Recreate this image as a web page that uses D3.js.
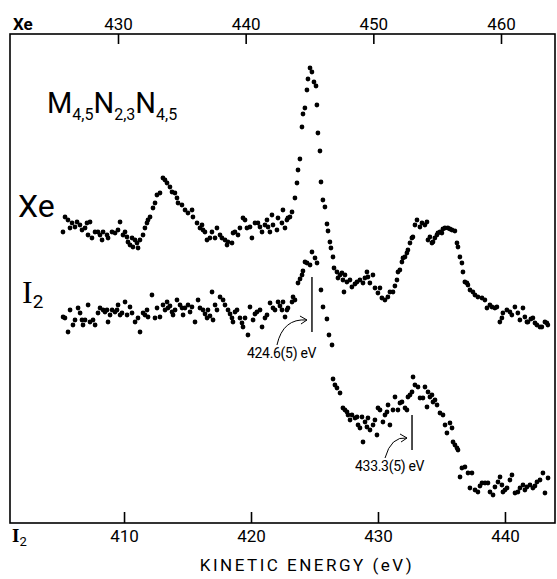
<!DOCTYPE html>
<html><head><meta charset="utf-8">
<script src="https://cdn.jsdelivr.net/npm/d3@7"></script>
<style>
body{margin:0;background:#fff}
svg{display:block}
text{font-family:Roboto,"DejaVu Sans",sans-serif;fill:#000}
</style>
</head><body><svg id="c" width="557" height="579"></svg>
<script>
// ---- data ----
const xeTicks=[430,440,450,460];
const i2Ticks=[410,420,430,440];
const xeEnergy=[425.69,425.85,426.08,426.24,426.40,426.63,426.79,427.02,427.18,427.42,427.57,427.65,427.81,427.96,428.20,428.43,428.59,428.75,428.83,429.14,429.22,429.53,429.77,430.00,430.16,430.39,430.55,430.70,430.78,430.94,431.10,431.17,431.33,431.49,431.57,431.72,431.96,432.11,432.27,432.35,432.51,432.74,432.90,433.05,433.29,433.52,433.68,433.84,434.07,434.23,434.46,434.62,434.70,435.01,435.25,435.48,435.80,435.87,436.19,436.42,436.58,436.66,436.81,436.97,437.20,437.36,437.60,437.75,437.99,438.14,438.38,438.54,438.61,438.93,439.01,439.16,439.40,439.55,439.79,439.95,440.10,440.34,440.49,440.73,440.96,441.12,441.28,441.51,441.67,441.75,441.90,442.06,442.14,442.45,442.53,442.84,442.92,443.08,443.23,443.31,443.47,443.63,443.86,444.02,444.10,444.25,444.41,444.49,444.64,444.80,444.88,445.04,445.19,445.35,445.51,445.58,445.66,445.82,445.90,446.05,446.21,446.37,446.45,446.60,446.68,446.84,446.92,447.15,447.23,447.39,447.54,447.62,447.70,447.78,447.93,448.17,448.32,448.56,448.72,448.95,449.19,449.34,449.50,449.58,449.73,449.97,450.13,450.36,450.52,450.67,450.91,451.14,451.30,451.54,451.69,451.85,451.93,452.08,452.24,452.32,452.48,452.63,452.71,452.87,453.02,453.10,453.26,453.42,453.65,453.81,454.04,454.20,454.28,454.43,454.59,454.67,454.82,454.98,455.06,455.22,455.37,455.45,455.61,455.84,456.00,456.16,456.39,456.55,456.63,456.78,456.94,457.02,457.17,457.33,457.41,457.57,457.80,457.96,458.19,458.51,458.74,458.90,459.13,459.29,459.52,459.68,459.91,460.07,460.15,460.46,460.70,460.85,461.09,461.32,461.48,461.72,461.87,462.03,462.11,462.34,462.50,462.66,462.81,463.05,463.20,463.44,463.59,463.67];
const xeCounts=[291,306,303,295,300,296,301,298,293,295,300,288,301,285,291,291,288,283,291,288,285,291,290,293,301,288,291,286,281,278,285,276,283,280,275,283,288,295,300,303,306,315,320,328,330,345,343,340,336,331,330,325,320,318,313,310,313,306,300,295,298,293,291,283,285,291,285,295,288,285,283,278,281,280,290,291,288,295,305,303,295,296,285,300,300,296,291,298,303,296,291,308,298,293,305,300,313,295,303,305,306,311,325,340,353,364,396,409,415,433,444,455,451,441,437,418,390,372,341,323,316,299,292,281,275,266,255,251,245,248,250,243,231,248,241,243,236,239,241,243,240,245,251,246,240,248,235,230,235,225,223,226,231,231,237,243,251,253,261,265,266,270,273,280,285,286,298,303,296,300,298,301,283,286,280,281,285,288,290,291,290,294,295,295,294,293,292,280,276,266,260,251,241,240,238,233,231,228,226,225,223,215,218,216,215,216,201,205,210,213,211,208,216,210,203,215,206,201,201,204,205,200,198,196,196,201,200,198];
const i2Energy=[405.20,405.35,405.59,405.75,405.98,406.14,406.38,406.54,406.69,406.77,406.93,407.17,407.32,407.56,407.72,407.95,408.11,408.35,408.50,408.66,408.74,408.90,409.06,409.29,409.45,409.53,409.69,409.84,410.08,410.24,410.47,410.63,410.87,411.10,411.26,411.50,411.65,411.81,411.89,412.20,412.44,412.60,412.83,413.07,413.23,413.39,413.46,413.62,413.78,413.86,414.02,414.17,414.41,414.57,414.65,414.80,415.04,415.20,415.35,415.59,415.83,415.98,416.22,416.38,416.54,416.61,416.77,416.93,417.01,417.17,417.32,417.56,417.80,417.95,418.19,418.35,418.50,418.58,418.74,418.90,419.13,419.29,419.37,419.53,419.76,419.92,420.16,420.31,420.47,420.71,420.87,421.10,421.26,421.50,421.73,421.89,422.13,422.28,422.44,422.52,422.68,422.83,422.91,423.23,423.31,423.46,423.70,423.86,424.02,424.09,424.25,424.41,424.65,424.80,425.04,425.20,425.51,425.67,425.98,426.14,426.38,426.46,426.61,426.77,427.01,427.24,427.40,427.56,427.64,427.80,427.95,428.19,428.35,428.43,428.58,428.74,428.82,428.98,429.13,429.21,429.37,429.61,429.76,429.92,430.00,430.16,430.39,430.55,430.71,430.79,430.94,431.18,431.34,431.57,431.73,431.89,432.13,432.28,432.36,432.52,432.68,432.76,432.91,433.15,433.31,433.54,433.70,433.86,433.94,434.09,434.25,434.33,434.49,434.65,434.88,435.12,435.28,435.43,435.67,435.83,435.91,436.06,436.22,436.30,436.46,436.61,436.85,437.09,437.24,437.40,437.64,437.87,438.03,438.19,438.43,438.66,438.82,439.06,439.21,439.45,439.61,439.76,439.84,440.00,440.16,440.39,440.55,440.79,441.02,441.18,441.42,441.57,441.73,441.97,442.20,442.36,442.52,442.76,442.99,443.15,443.39];
const i2Counts=[206,205,191,213,198,203,215,210,203,198,203,218,201,203,198,210,215,213,211,213,201,208,213,211,213,218,208,210,221,208,216,210,201,205,191,210,208,213,206,228,205,215,206,218,213,221,215,217,211,208,213,223,218,215,208,215,218,211,216,201,223,215,213,209,205,213,207,231,203,218,213,226,223,218,213,209,205,201,211,213,205,200,196,205,188,216,203,209,211,213,196,205,208,220,215,213,221,217,213,221,206,213,215,221,226,223,240,244,248,252,261,260,258,271,265,260,233,216,204,188,178,144,138,135,130,115,113,111,108,103,108,105,106,98,95,106,81,101,96,105,93,98,103,88,115,113,101,108,111,118,98,113,126,113,120,121,115,113,126,128,131,146,138,136,125,125,136,116,131,126,128,121,123,118,110,108,98,90,100,95,81,78,75,73,46,55,56,50,35,50,33,31,37,40,40,40,31,28,36,41,46,38,31,33,35,43,48,30,31,35,38,33,36,38,35,37,41,43,50,30,45];
const markEnergy=[424.8,432.68];
const markLabels=["424.6(5) eV","433.3(5) eV"];
const markTop=[246,108];
const markBottom=[191,73];

// ---- layout ----
const L=10,R=555,T=34,B=523;
const svg=d3.select("#c");
const xXe=d3.scaleLinear().domain([421.54,464.23]).range([L,R]);
const xI2=d3.scaleLinear().domain([401.02,443.94]).range([L,R]);
const y=d3.scaleLinear().domain([0,489]).range([B,T]);

svg.append("rect").attr("x",L).attr("y",T).attr("width",R-L).attr("height",B-T)
  .attr("fill","none").attr("stroke","#000").attr("stroke-width",1.6);

const topAx=svg.append("g").attr("transform",`translate(0,${T})`)
  .call(d3.axisTop(xXe).tickValues(xeTicks).tickSize(-10).tickPadding(4).tickFormat(d3.format("d")));
const botAx=svg.append("g").attr("transform",`translate(0,${B})`)
  .call(d3.axisBottom(xI2).tickValues(i2Ticks).tickSize(-11).tickPadding(7).tickFormat(d3.format("d")));
[topAx,botAx].forEach(g=>{
  g.select(".domain").remove();
  g.selectAll(".tick line").attr("stroke","#000").attr("stroke-width",1.6);
  g.selectAll(".tick text").attr("font-size",17).attr("font-family","Roboto,sans-serif").attr("fill","#000");
});

// dots
const dots=svg.append("g");
dots.selectAll("circle.xe").data(d3.zip(xeEnergy,xeCounts)).join("circle").attr("class","xe")
  .attr("cx",d=>xXe(d[0])).attr("cy",d=>y(d[1])).attr("r",2.4).attr("fill","#000");
dots.selectAll("circle.i2").data(d3.zip(i2Energy,i2Counts)).join("circle").attr("class","i2")
  .attr("cx",d=>xI2(d[0])).attr("cy",d=>y(d[1])).attr("r",2.4).attr("fill","#000");

// markers
const labelDx=[-65,-57], labelDy=[26,21];
markEnergy.forEach((e,i)=>{
  const x=xI2(e);
  svg.append("line").attr("x1",x).attr("x2",x).attr("y1",y(markTop[i])).attr("y2",y(markBottom[i]))
    .attr("stroke","#000").attr("stroke-width",1.4);
  const yb=y(markBottom[i]);
  const tx=x+labelDx[i], ty=yb+labelDy[i];
  svg.append("text").attr("x",tx).attr("y",ty).attr("font-size",14).attr("letter-spacing",-0.3).text(markLabels[i]);
  const sx=tx+30, sy=ty-13, ex=x-5, ey=yb-12;
  svg.append("path").attr("d",`M${sx},${sy} Q${sx+6},${ey-2} ${ex},${ey}`)
    .attr("fill","none").attr("stroke","#000").attr("stroke-width",1);
  svg.append("path").attr("d",`M${ex-7},${ey-4} L${ex},${ey} L${ex-6},${ey+4}`)
    .attr("fill","none").attr("stroke","#000").attr("stroke-width",1);
});

// labels
svg.append("text").attr("x",13).attr("y",30).attr("font-size",17).attr("font-weight","bold").text("Xe");
const i2b=svg.append("text").attr("x",12).attr("y",542);
i2b.append("tspan").attr("font-family","'Liberation Serif',serif").attr("font-weight","bold").attr("font-size",19).text("I");
i2b.append("tspan").attr("font-size",13).attr("dy",4).text("2");

svg.append("text").attr("x",18).attr("y",217).attr("font-size",32).text("Xe");
const i2l=svg.append("text").attr("x",22).attr("y",303);
i2l.append("tspan").attr("font-family","'Liberation Serif',serif").attr("font-size",32).text("I");
i2l.append("tspan").attr("font-size",19).attr("dy",5).text("2");

const m=svg.append("text").attr("x",47).attr("y",113);
[["M",0,29],["4,5",7,16],["N",-7,29],["2,3",7,16],["N",-7,29],["4,5",7,16]].forEach(([t,dy,fs])=>{
  m.append("tspan").attr("dy",dy).attr("font-size",fs).text(t);
});

svg.append("text").attr("x",307).attr("y",571).attr("text-anchor","middle").attr("font-size",17)
  .attr("letter-spacing",2.5).text("KINETIC ENERGY (eV)");
</script></body></html>
